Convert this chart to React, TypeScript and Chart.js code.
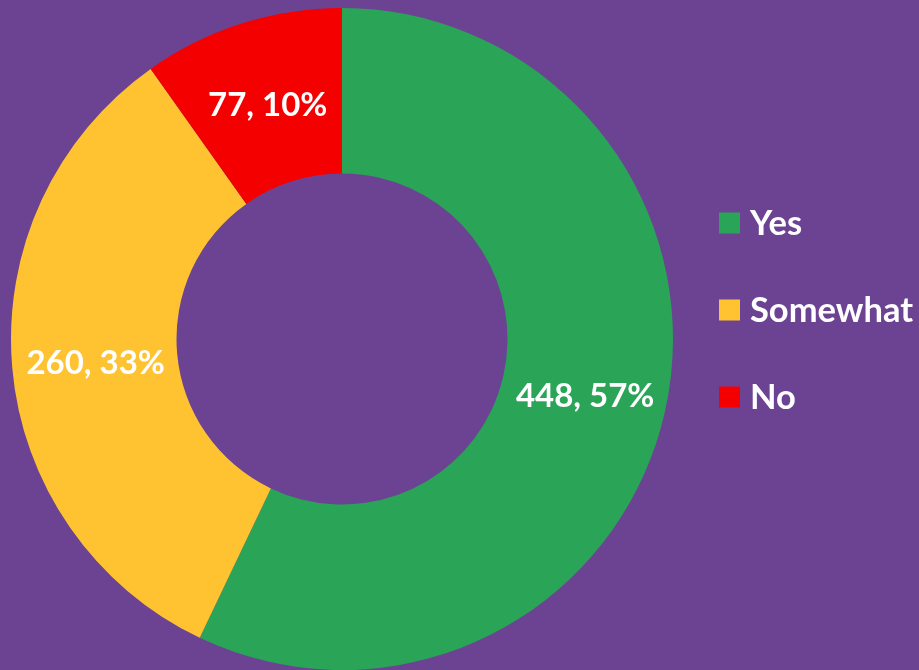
import React, { useEffect, useRef } from "react";
import { Chart, registerables } from "chart.js";

Chart.register(...registerables);

const categories = ["Yes", "Somewhat", "No"];
const values = [448, 260, 77];
const percents = [57, 33, 10];
const colors = ["#2AA457", "#FFC332", "#F50000"];
const BG = "#6C4393";
const FONT = "Lato, 'Open Sans', sans-serif";

const labelPlugin = {
  id: "sliceLabels",
  afterDatasetsDraw(chart: any) {
    const ctx = chart.ctx;
    const meta = chart.getDatasetMeta(0);
    ctx.save();
    ctx.fillStyle = "#FFFFFF";
    ctx.font = `bold 33px ${FONT}`;
    ctx.textAlign = "center";
    ctx.textBaseline = "middle";
    meta.data.forEach((arc: any, i: number) => {
      const p = arc.getCenterPoint();
      ctx.fillText(`${values[i]}, ${percents[i]}%`, p.x + 1, p.y + 3);
    });
    ctx.restore();
  },
};

const legendPlugin = {
  id: "customLegend",
  afterDraw(chart: any) {
    const ctx = chart.ctx;
    const x0 = 719;
    const size = 21;
    const rows = [223, 310, 397];
    ctx.save();
    ctx.font = `bold 34.5px ${FONT}`;
    ctx.textAlign = "left";
    ctx.textBaseline = "middle";
    categories.forEach((c, i) => {
      const y = rows[i];
      ctx.fillStyle = colors[i];
      ctx.fillRect(x0, y - size / 2, size, size);
      ctx.fillStyle = "#FFFFFF";
      ctx.fillText(c, x0 + 31, y + 1);
    });
    ctx.restore();
  },
};

export default function App() {
  const ref = useRef<HTMLCanvasElement>(null);
  useEffect(() => {
    if (!ref.current) return;
    const chart = new Chart(ref.current, {
      type: "doughnut",
      data: {
        labels: categories,
        datasets: [
          {
            data: values,
            backgroundColor: colors,
            borderWidth: 0,
          },
        ],
      },
      options: {
        responsive: false,
        animation: false,
        cutout: "50%",
        layout: { padding: { left: 11, right: 246, top: 8, bottom: 0 } },
        plugins: {
          legend: { display: false },
          tooltip: { enabled: false },
        },
      },
      plugins: [labelPlugin, legendPlugin],
    });
    return () => chart.destroy();
  }, []);
  return (
    <div
      style={{
        position: "fixed",
        left: 0,
        top: 0,
        width: 919,
        height: 670,
        background: BG,
      }}
    >
      <canvas ref={ref} width={919} height={670} style={{ display: "block" }} />
    </div>
  );
}
